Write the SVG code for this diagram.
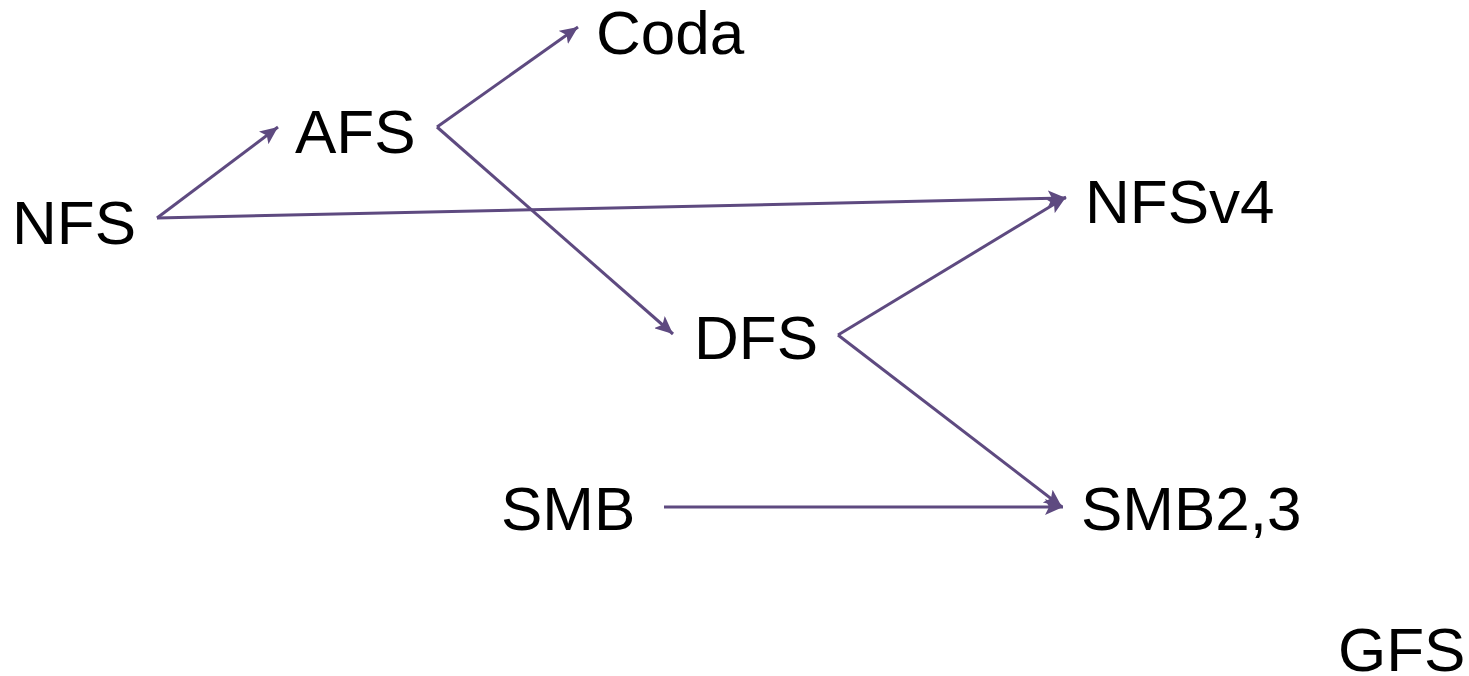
<svg xmlns="http://www.w3.org/2000/svg" width="1469" height="676" viewBox="0 0 1469 676">
<style>
text{font-family:"Liberation Sans",Arial,sans-serif;font-size:62px;fill:#000}
.c line{stroke:#5e4a80;stroke-width:3;fill:none;marker-end:url(#ah)}
</style>
<defs>
<marker id="ah" markerUnits="userSpaceOnUse" markerWidth="20" markerHeight="16" refX="18" refY="8" orient="auto">
<path d="M0,0 L18,8 L0,16 L4,8 Z" fill="#5e4a80"/>
</marker>
</defs>
<rect width="1469" height="676" fill="#fff"/>
<g class="c" id="connectors">
<line x1="157" y1="218" x2="278" y2="127"/>
<line x1="157" y1="218" x2="1066" y2="198"/>
<line x1="437" y1="127" x2="578" y2="27"/>
<line x1="437" y1="127" x2="673" y2="334"/>
<line x1="838" y1="335" x2="1066" y2="197"/>
<line x1="838" y1="335" x2="1062" y2="507"/>
<line x1="664" y1="507" x2="1063" y2="507"/>
</g>
<g id="NFS"><text x="12" y="244">NFS</text></g>
<g id="AFS"><text x="295" y="153">AFS</text></g>
<g id="Coda"><text x="596" y="54">Coda</text></g>
<g id="NFSv4"><text x="1085" y="223">NFSv4</text></g>
<g id="DFS"><text x="694" y="359">DFS</text></g>
<g id="SMB"><text x="501" y="530">SMB</text></g>
<g id="SMB23"><text x="1081" y="530">SMB2,3</text></g>
<g id="GFS"><text x="1338" y="671">GFS</text></g>
</svg>
